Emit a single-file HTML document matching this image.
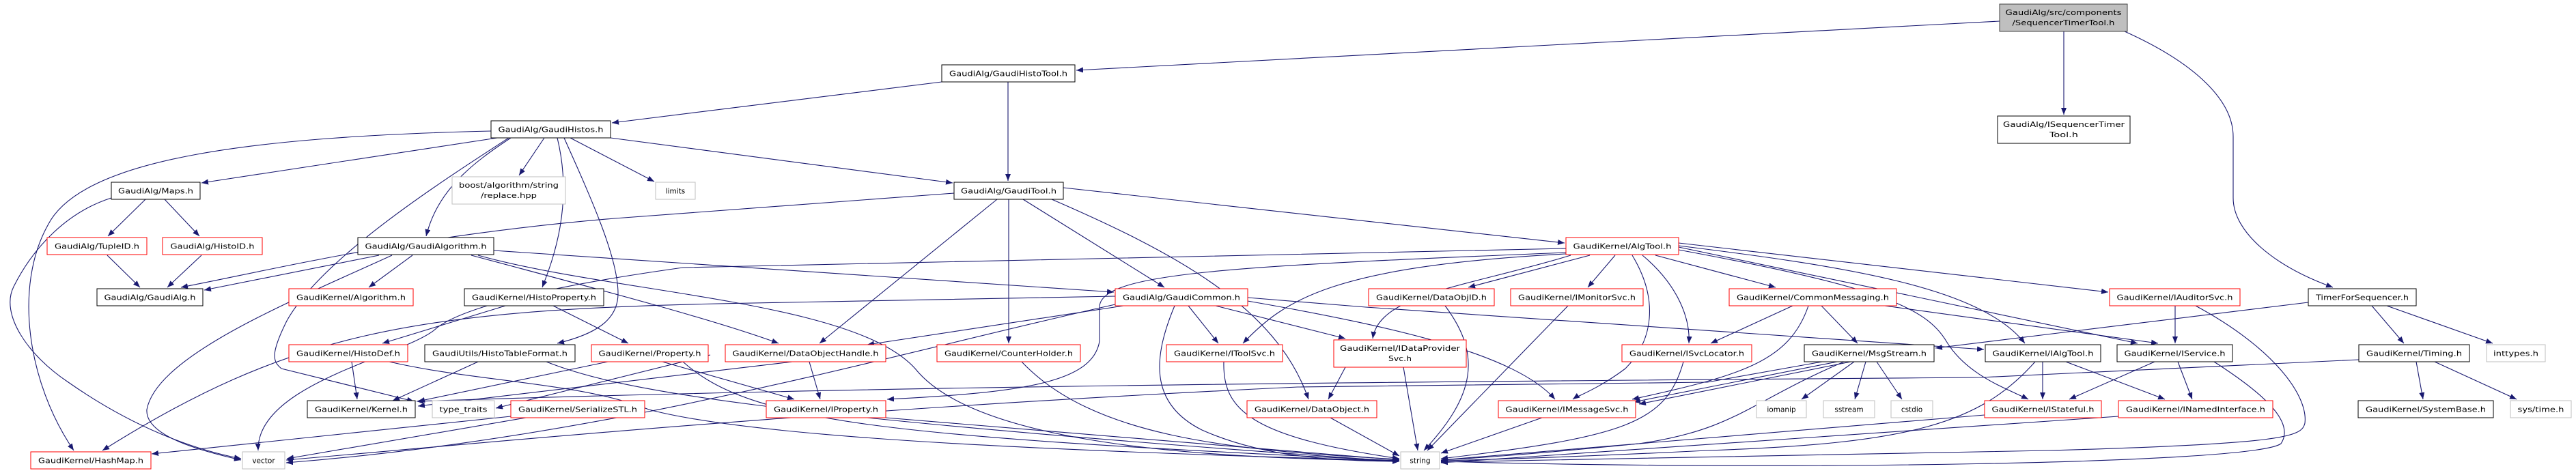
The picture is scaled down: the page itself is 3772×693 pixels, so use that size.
<!DOCTYPE html>
<html><head><meta charset="utf-8"><style>
html,body{margin:0;padding:0;background:#fff;}
svg{display:block;}
text{font-family:"DejaVu Sans","Liberation Sans",sans-serif;font-size:10.5px;fill:#000;text-anchor:middle;}
.e{fill:none;stroke:#191970;stroke-width:1.1;marker-end:url(#a);}
.b{fill:#fff;stroke:#000;stroke-width:1;}
.r{fill:#fff;stroke:#ff0000;stroke-width:1;}
.g{fill:#fff;stroke:#bfbfbf;stroke-width:1;}
</style></head><body>
<svg width="3772" height="693" viewBox="0 0 3772 693" xmlns="http://www.w3.org/2000/svg">
<defs><marker id="a" markerWidth="10" markerHeight="8" refX="10" refY="4" orient="auto" markerUnits="userSpaceOnUse"><path d="M0,0 L10,4 L0,8 z" fill="#191970"/></marker></defs>
<g>
<path class="e" d="M2928 31 L1576 103"/>
<path class="e" d="M3022 46 L3022 168"/>
<path class="e" d="M3111 46 C3220 95 3270 150 3270 200 L3270 290 C3270 340 3330 390 3416 421"/>
<path class="e" d="M1379 120 L896 180"/>
<path class="e" d="M1476 120 L1476 265"/>
<path class="e" d="M894 202 L1395 268"/>
<path class="e" d="M835 202 L958 266"/>
<path class="e" d="M797 202 L760 257"/>
<path class="e" d="M728 202 L295 268"/>
<path class="e" d="M748 202 C690 240 640 280 624 346"/>
<path class="e" d="M719 192 C380 200 120 230 70 330 C20 420 40 560 108 660"/>
<path class="e" d="M745 202 C640 270 470 380 420 470 C395 520 400 530 412 540 L606 588"/>
<path class="e" d="M816 202 C840 300 810 380 794 421"/>
<path class="e" d="M826 202 C870 300 905 380 905 430 C905 470 870 490 816 503"/>
<path class="e" d="M213 292 L158 346"/>
<path class="e" d="M241 292 L292 346"/>
<path class="e" d="M163 290 C100 310 50 360 20 420 C0 460 40 520 100 560 C200 630 290 660 353 672"/>
<path class="e" d="M157 374 L205 421"/>
<path class="e" d="M295 374 L245 421"/>
<path class="e" d="M555 374 L299 425"/>
<path class="e" d="M604 374 L540 421"/>
<path class="e" d="M574 374 C430 440 230 520 215 600 C212 640 300 662 353 674"/>
<path class="e" d="M723 367 L1631 428"/>
<path class="e" d="M690 374 C900 430 1050 470 1140 503"/>
<path class="e" d="M700 374 C900 430 1250 440 1340 540 C1420 640 1700 672 2049 675"/>
<path class="e" d="M1397 283 L900 320 C600 345 400 395 265 421"/>
<path class="e" d="M1460 292 L1200 503"/>
<path class="e" d="M1477 292 L1477 503"/>
<path class="e" d="M1498 292 L1705 421"/>
<path class="e" d="M1540 292 C1720 370 1870 450 1916 585"/>
<path class="e" d="M1557 275 L2291 356"/>
<path class="e" d="M1645 448 L1270 505"/>
<path class="e" d="M1740 448 L1784 503"/>
<path class="e" d="M1780 448 L1970 496"/>
<path class="e" d="M1720 448 C1690 520 1680 590 1760 630 C1850 670 1950 675 2049 676"/>
<path class="e" d="M1633 434 L1050 445 C600 455 420 490 150 660"/>
<path class="e" d="M1827 436 L2000 450 L2905 512"/>
<path class="e" d="M1827 441 C2050 480 2220 520 2277 585"/>
<path class="e" d="M1633 446 C1300 520 900 640 419 678"/>
<path class="e" d="M2293 364 L1000 392 C800 420 680 450 640 480 C600 520 375 560 378 660"/>
<path class="e" d="M2293 370 C1800 390 1610 400 1610 450 L1610 500 C1600 560 1500 575 1299 585"/>
<path class="e" d="M2293 372 C1950 390 1880 440 1820 503"/>
<path class="e" d="M2328 374 L2150 421"/>
<path class="e" d="M2365 374 L2325 421"/>
<path class="e" d="M2300 374 C2150 420 2020 430 2010 496"/>
<path class="e" d="M2390 374 C2430 440 2420 500 2380 540 C2340 570 2310 580 2303 585"/>
<path class="e" d="M2405 374 C2460 420 2475 470 2473 503"/>
<path class="e" d="M2424 374 L2600 421"/>
<path class="e" d="M2458 360 C2700 390 2900 420 2965 503"/>
<path class="e" d="M2458 362 L3130 503"/>
<path class="e" d="M2458 356 L3087 428"/>
<path class="e" d="M2458 366 C2750 420 2820 450 2850 500 C2880 550 2940 570 2970 585"/>
<path class="e" d="M2625 448 L2505 503"/>
<path class="e" d="M2648 448 C2620 530 2550 550 2390 585"/>
<path class="e" d="M2667 448 L2720 503"/>
<path class="e" d="M2760 448 L3160 503"/>
<path class="e" d="M2690 530 L2392 589"/>
<path class="e" d="M2710 530 L2400 592"/>
<path class="e" d="M2715 530 L2638 585"/>
<path class="e" d="M2732 530 L2716 585"/>
<path class="e" d="M2748 530 L2785 585"/>
<path class="e" d="M2700 530 C2560 590 2540 630 2400 650 C2250 665 2150 672 2110 674"/>
<path class="e" d="M2668 530 L2500 560 L1900 567 C1200 600 700 650 419 674"/>
<path class="e" d="M2991 530 L2991 585"/>
<path class="e" d="M3025 530 L3170 585"/>
<path class="e" d="M2980 530 C2900 620 2800 650 2500 660 C2300 670 2150 674 2110 675"/>
<path class="e" d="M3155 530 L3030 585"/>
<path class="e" d="M3189 530 L3210 585"/>
<path class="e" d="M3242 530 C3320 580 3360 620 3340 650 C3300 680 2600 690 2110 676"/>
<path class="e" d="M3185 448 L3185 503"/>
<path class="e" d="M3215 448 C3330 510 3380 580 3375 620 C3370 640 3350 650 3000 660 C2600 670 2200 676 2110 677"/>
<path class="e" d="M3473 448 L3520 503"/>
<path class="e" d="M3495 448 L3650 503"/>
<path class="e" d="M3380 443 L2834 510"/>
<path class="e" d="M3538 530 L3548 585"/>
<path class="e" d="M3565 530 L3685 585"/>
<path class="e" d="M3454 527 L2900 553 C2000 560 1300 565 610 588"/>
<path class="e" d="M3102 610 L2110 678"/>
<path class="e" d="M2906 608 L2110 674"/>
<path class="e" d="M2465 530 C2440 620 2380 640 2110 672"/>
<path class="e" d="M2296 448 L2090 660"/>
<path class="e" d="M2116 448 C2170 520 2160 580 2085 660"/>
<path class="e" d="M2055 538 L2076 660"/>
<path class="e" d="M1970 538 L1945 585"/>
<path class="e" d="M2258 612 L2110 664"/>
<path class="e" d="M1792 530 C1790 600 1830 640 2049 672"/>
<path class="e" d="M1948 612 L2049 668"/>
<path class="e" d="M1496 530 C1600 640 1800 660 2049 673"/>
<path class="e" d="M1297 612 L2049 674"/>
<path class="e" d="M1185 530 L1201 585"/>
<path class="e" d="M1160 530 L612 595"/>
<path class="e" d="M970 530 L1163 585"/>
<path class="e" d="M1000 530 C1100 620 1300 640 2049 675"/>
<path class="e" d="M890 530 L612 588"/>
<path class="e" d="M515 530 L523 585"/>
<path class="e" d="M570 530 C700 560 850 560 950 600 C1100 640 1500 660 2049 675"/>
<path class="e" d="M740 448 L560 503"/>
<path class="e" d="M810 448 L920 503"/>
<path class="e" d="M700 530 L575 587"/>
<path class="e" d="M800 530 C900 570 1100 610 2049 676"/>
<path class="e" d="M1040 520 L726 598"/>
<path class="e" d="M748 610 L222 665"/>
<path class="e" d="M770 612 L420 672"/>
</g>
<g>
<rect x="2928" y="6" width="187" height="40" fill="#bfbfbf" stroke="#404040"/>
<text x="3021.5" y="22" textLength="170" lengthAdjust="spacingAndGlyphs">GaudiAlg/src/components</text>
<text x="3021.5" y="37" textLength="150" lengthAdjust="spacingAndGlyphs">/SequencerTimerTool.h</text>

<rect class="b" x="1379" y="95" width="195" height="25"/><text x="1476.5" y="111.5" textLength="173" lengthAdjust="spacingAndGlyphs">GaudiAlg/GaudiHistoTool.h</text>
<rect class="b" x="719" y="177" width="175" height="25"/><text x="806.5" y="193.5" textLength="154" lengthAdjust="spacingAndGlyphs">GaudiAlg/GaudiHistos.h</text>
<rect class="b" x="2925" y="170" width="194" height="40"/>
<text x="3022" y="186" textLength="178" lengthAdjust="spacingAndGlyphs">GaudiAlg/ISequencerTimer</text>
<text x="3022" y="201" textLength="42" lengthAdjust="spacingAndGlyphs">Tool.h</text>
<rect class="b" x="163" y="267" width="130" height="25"/><text x="228" y="283.5" textLength="110" lengthAdjust="spacingAndGlyphs">GaudiAlg/Maps.h</text>
<rect class="g" x="662" y="259" width="166" height="40"/>
<text x="745" y="275" textLength="146" lengthAdjust="spacingAndGlyphs">boost/algorithm/string</text>
<text x="745" y="290" textLength="82" lengthAdjust="spacingAndGlyphs">/replace.hpp</text>
<rect class="g" x="960" y="267" width="58" height="25"/><text x="989" y="283.5">limits</text>
<rect class="b" x="1397" y="267" width="160" height="25"/><text x="1477" y="283.5" textLength="140" lengthAdjust="spacingAndGlyphs">GaudiAlg/GaudiTool.h</text>

<rect class="r" x="69" y="348" width="146" height="25"/><text x="142" y="364.5" textLength="124" lengthAdjust="spacingAndGlyphs">GaudiAlg/TupleID.h</text>
<rect class="r" x="238" y="348" width="146" height="25"/><text x="311" y="364.5" textLength="123" lengthAdjust="spacingAndGlyphs">GaudiAlg/HistoID.h</text>
<rect class="b" x="524" y="348" width="199" height="25"/><text x="623.5" y="364.5" textLength="178" lengthAdjust="spacingAndGlyphs">GaudiAlg/GaudiAlgorithm.h</text>
<rect class="r" x="2293" y="348" width="165" height="25"/><text x="2375.5" y="364.5" textLength="144" lengthAdjust="spacingAndGlyphs">GaudiKernel/AlgTool.h</text>

<rect class="b" x="142" y="423" width="155" height="25"/><text x="219.5" y="439.5" textLength="134" lengthAdjust="spacingAndGlyphs">GaudiAlg/GaudiAlg.h</text>
<rect class="r" x="423" y="423" width="182" height="25"/><text x="514" y="439.5" textLength="160" lengthAdjust="spacingAndGlyphs">GaudiKernel/Algorithm.h</text>
<rect class="b" x="680" y="423" width="204" height="25"/><text x="782" y="439.5" textLength="182" lengthAdjust="spacingAndGlyphs">GaudiKernel/HistoProperty.h</text>
<rect class="r" x="1633" y="423" width="194" height="25"/><text x="1730" y="439.5" textLength="172" lengthAdjust="spacingAndGlyphs">GaudiAlg/GaudiCommon.h</text>
<rect class="r" x="2004" y="423" width="184" height="25"/><text x="2096" y="439.5" textLength="162" lengthAdjust="spacingAndGlyphs">GaudiKernel/DataObjID.h</text>
<rect class="r" x="2212" y="423" width="194" height="25"/><text x="2309" y="439.5" textLength="172" lengthAdjust="spacingAndGlyphs">GaudiKernel/IMonitorSvc.h</text>
<rect class="r" x="2532" y="423" width="245" height="25"/><text x="2654.5" y="439.5" textLength="223" lengthAdjust="spacingAndGlyphs">GaudiKernel/CommonMessaging.h</text>
<rect class="r" x="3089" y="423" width="191" height="25"/><text x="3184.5" y="439.5" textLength="170" lengthAdjust="spacingAndGlyphs">GaudiKernel/IAuditorSvc.h</text>
<rect class="b" x="3380" y="423" width="158" height="25"/><text x="3459" y="439.5" textLength="136" lengthAdjust="spacingAndGlyphs">TimerForSequencer.h</text>

<rect class="r" x="423" y="505" width="174" height="25"/><text x="510" y="521.5" textLength="152" lengthAdjust="spacingAndGlyphs">GaudiKernel/HistoDef.h</text>
<rect class="b" x="622" y="505" width="220" height="25"/><text x="732" y="521.5" textLength="198" lengthAdjust="spacingAndGlyphs">GaudiUtils/HistoTableFormat.h</text>
<rect class="r" x="866" y="505" width="171" height="25"/><text x="951.5" y="521.5" textLength="150" lengthAdjust="spacingAndGlyphs">GaudiKernel/Property.h</text>
<rect class="r" x="1062" y="505" width="235" height="25"/><text x="1179.5" y="521.5" textLength="214" lengthAdjust="spacingAndGlyphs">GaudiKernel/DataObjectHandle.h</text>
<rect class="r" x="1372" y="505" width="210" height="25"/><text x="1477" y="521.5" textLength="188" lengthAdjust="spacingAndGlyphs">GaudiKernel/CounterHolder.h</text>
<rect class="r" x="1708" y="505" width="170" height="25"/><text x="1793" y="521.5" textLength="148" lengthAdjust="spacingAndGlyphs">GaudiKernel/IToolSvc.h</text>
<rect class="r" x="1953" y="498" width="194" height="40"/>
<text x="2050" y="514" textLength="176" lengthAdjust="spacingAndGlyphs">GaudiKernel/IDataProvider</text>
<text x="2050" y="529" textLength="34" lengthAdjust="spacingAndGlyphs">Svc.h</text>
<rect class="r" x="2375" y="505" width="190" height="25"/><text x="2470" y="521.5" textLength="168" lengthAdjust="spacingAndGlyphs">GaudiKernel/ISvcLocator.h</text>
<rect class="b" x="2642" y="505" width="190" height="25"/><text x="2737" y="521.5" textLength="168" lengthAdjust="spacingAndGlyphs">GaudiKernel/MsgStream.h</text>
<rect class="b" x="2907" y="505" width="169" height="25"/><text x="2991.5" y="521.5" textLength="148" lengthAdjust="spacingAndGlyphs">GaudiKernel/IAlgTool.h</text>
<rect class="b" x="3100" y="505" width="169" height="25"/><text x="3184.5" y="521.5" textLength="148" lengthAdjust="spacingAndGlyphs">GaudiKernel/IService.h</text>
<rect class="b" x="3454" y="505" width="162" height="25"/><text x="3535" y="521.5" textLength="140" lengthAdjust="spacingAndGlyphs">GaudiKernel/Timing.h</text>
<rect class="g" x="3641" y="505" width="86" height="25"/><text x="3684" y="521.5" textLength="66" lengthAdjust="spacingAndGlyphs">inttypes.h</text>

<rect class="b" x="450" y="587" width="158" height="25"/><text x="529" y="603.5" textLength="136" lengthAdjust="spacingAndGlyphs">GaudiKernel/Kernel.h</text>
<rect class="g" x="633" y="587" width="91" height="25"/><text x="678.5" y="603.5" textLength="70" lengthAdjust="spacingAndGlyphs">type_traits</text>
<rect class="r" x="748" y="587" width="196" height="25"/><text x="846" y="603.5" textLength="174" lengthAdjust="spacingAndGlyphs">GaudiKernel/SerializeSTL.h</text>
<rect class="r" x="1122" y="587" width="175" height="25"/><text x="1209.5" y="603.5" textLength="153" lengthAdjust="spacingAndGlyphs">GaudiKernel/IProperty.h</text>
<rect class="r" x="1826" y="587" width="190" height="25"/><text x="1921" y="603.5" textLength="168" lengthAdjust="spacingAndGlyphs">GaudiKernel/DataObject.h</text>
<rect class="r" x="2194" y="587" width="201" height="25"/><text x="2294.5" y="603.5" textLength="180" lengthAdjust="spacingAndGlyphs">GaudiKernel/IMessageSvc.h</text>
<rect class="g" x="2572" y="587" width="73" height="25"/><text x="2608.5" y="603.5">iomanip</text>
<rect class="g" x="2670" y="587" width="75" height="25"/><text x="2707.5" y="603.5">sstream</text>
<rect class="g" x="2769" y="587" width="61" height="25"/><text x="2799.5" y="603.5">cstdio</text>
<rect class="r" x="2906" y="587" width="171" height="25"/><text x="2991.5" y="603.5" textLength="150" lengthAdjust="spacingAndGlyphs">GaudiKernel/IStateful.h</text>
<rect class="r" x="3102" y="587" width="226" height="25"/><text x="3215" y="603.5" textLength="204" lengthAdjust="spacingAndGlyphs">GaudiKernel/INamedInterface.h</text>
<rect class="b" x="3453" y="587" width="198" height="25"/><text x="3552" y="603.5" textLength="176" lengthAdjust="spacingAndGlyphs">GaudiKernel/SystemBase.h</text>
<rect class="g" x="3676" y="587" width="89" height="25"/><text x="3720.5" y="603.5" textLength="68" lengthAdjust="spacingAndGlyphs">sys/time.h</text>

<rect class="r" x="45" y="662" width="176" height="25"/><text x="133" y="678.5" textLength="154" lengthAdjust="spacingAndGlyphs">GaudiKernel/HashMap.h</text>
<rect class="g" x="355" y="662" width="62" height="25"/><text x="386" y="678.5">vector</text>
<rect class="g" x="2051" y="662" width="57" height="25"/><text x="2079.5" y="678.5">string</text>
</g>
</svg>
</body></html>
